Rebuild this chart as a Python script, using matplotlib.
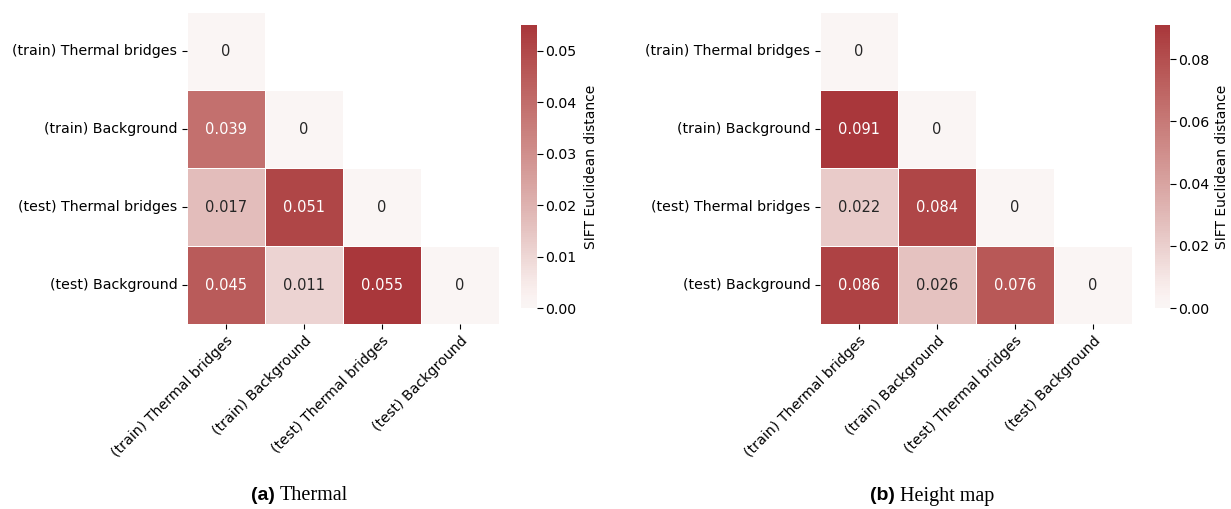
import matplotlib
matplotlib.use("Agg")
import matplotlib.pyplot as plt
import numpy as np
import seaborn as sns

labels = [
    "(train) Thermal bridges",
    "(train) Background",
    "(test) Thermal bridges",
    "(test) Background",
]

# lower triangle of the distance matrices (row by row)
thermal = np.array([
    [0.0, 0.0, 0.0, 0.0],
    [0.039, 0.0, 0.0, 0.0],
    [0.017, 0.051, 0.0, 0.0],
    [0.045, 0.011, 0.055, 0.0],
])
height_map = np.array([
    [0.0, 0.0, 0.0, 0.0],
    [0.091, 0.0, 0.0, 0.0],
    [0.022, 0.084, 0.0, 0.0],
    [0.086, 0.026, 0.076, 0.0],
])

captions = [("(a)", "Thermal"), ("(b)", "Height map")]

W, H = 1231, 509
fig = plt.figure(figsize=(W / 100, H / 100), dpi=100)


def px_axes(x0, y0, x1, y1):
    # pixel box (top-left origin) -> figure axes
    return fig.add_axes([x0 / W, 1 - y1 / H, (x1 - x0) / W, (y1 - y0) / H])


mask = np.triu(np.ones((4, 4), dtype=bool), k=1)
panels = [
    (thermal, (187, 12, 499, 324), (521, 25, 537, 308), 300, 591),
    (height_map, (820, 12, 1132, 324), (1155, 25, 1170, 308), 920, 1222),
]

for (data, box, cbox, cx, lx), (tag, name) in zip(panels, captions):
    ax = px_axes(*box)
    cax = px_axes(*cbox)
    sns.heatmap(
        data,
        mask=mask,
        cmap="vlag",
        center=0,
        vmin=0,
        annot=True,
        fmt=".2g",
        annot_kws={"fontsize": 10.5},
        linewidths=0.7,
        linecolor="white",
        xticklabels=labels,
        yticklabels=labels,
        ax=ax,
        cbar_ax=cax,
    )
    ax.tick_params(labelsize=10.2)
    ax.set_xticklabels(labels, rotation=45, ha="right", rotation_mode="anchor")
    ax.set_yticklabels(labels, rotation=0)
    cax.tick_params(labelsize=10.2, length=4, pad=2)
    cax.set_ylabel("SIFT Euclidean distance", fontsize=10,
                   va="center", ha="center")
    cax.yaxis.set_label_coords((lx - cbox[0]) / (cbox[2] - cbox[0]), 0.5)

    fig.text((cx - 25) / W, 1 - 496 / H, tag, ha="right", va="center",
             fontsize=14, fontweight="bold", family="Liberation Sans")
    fig.text((cx - 20) / W, 1 - 496 / H, name, ha="left", va="center",
             fontsize=14.5, family="Liberation Serif")

fig.savefig("out.png", dpi=100)
